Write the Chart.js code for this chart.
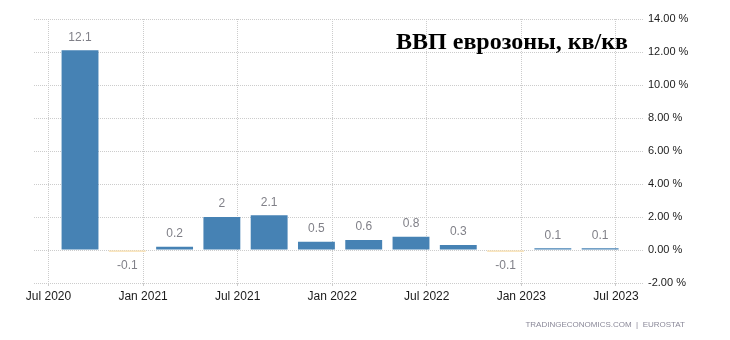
<!DOCTYPE html>
<html>
<head>
<meta charset="utf-8">
<script src="https://cdn.jsdelivr.net/npm/chart.js@4/dist/chart.umd.min.js"></script>
<style>
  body { margin: 0; background: #fff; }
  canvas { display: block; }
</style>
</head>
<body>
<canvas id="gdp" width="730" height="340"></canvas>
<script>
// quarters, as months counted from Jul 2020
const quarters = ['Q3 2020', 'Q4 2020', 'Q1 2021', 'Q2 2021', 'Q3 2021', 'Q4 2021',
                  'Q1 2022', 'Q2 2022', 'Q3 2022', 'Q4 2022', 'Q1 2023', 'Q2 2023'];
const barMonths = [2, 5, 8, 11, 14, 17, 20, 23, 26, 29, 32, 35];
const gdpQoQ = [12.1, -0.1, 0.2, 2, 2.1, 0.5, 0.6, 0.8, 0.3, -0.1, 0.1, 0.1];
const tickMonths = [0, 6, 12, 18, 24, 30, 36];
const tickLabels = ['Jul 2020', 'Jan 2021', 'Jul 2021', 'Jan 2022', 'Jul 2022', 'Jan 2023', 'Jul 2023'];
const yTicks = [-2, 0, 2, 4, 6, 8, 10, 12, 14];

const valueLabels = {
  id: 'valueLabels',
  afterDatasetsDraw(chart) {
    const ctx = chart.ctx;
    const bars = chart.getDatasetMeta(0).data;
    ctx.save();
    ctx.font = '12px "Liberation Sans", Arial, sans-serif';
    ctx.fillStyle = '#808088';
    ctx.textAlign = 'center';
    ctx.textBaseline = 'middle';
    bars.forEach((bar, i) => {
      const v = gdpQoQ[i];
      const y = v >= 0 ? bar.y - 13 : bar.y + 14;
      ctx.fillText(String(v), bar.x, y);
    });
    ctx.restore();
  }
};

const captions = {
  id: 'captions',
  afterDraw(chart) {
    const ctx = chart.ctx;
    ctx.save();
    ctx.fillStyle = '#000';
    ctx.font = 'bold 24px "Liberation Serif", "Times New Roman", serif';
    ctx.textAlign = 'right';
    ctx.textBaseline = 'alphabetic';
    ctx.fillText('ВВП еврозоны, кв/кв', 628, 49);
    ctx.font = '8px "Liberation Sans", Arial, sans-serif';
    ctx.fillStyle = '#8a8898';
    ctx.textBaseline = 'middle';
    ctx.fillText('TRADINGECONOMICS.COM  |  EUROSTAT', 685, 325);
    ctx.restore();
  }
};

new Chart(document.getElementById('gdp').getContext('2d'), {
  type: 'bar',
  data: {
    datasets: [{
      label: 'ВВП еврозоны, кв/кв',
      data: barMonths.map((m, i) => ({ x: m, y: gdpQoQ[i] })),
      backgroundColor: gdpQoQ.map(v => v < 0 ? '#f9deaa' : '#4682b4'),
      borderWidth: 0,
      barPercentage: 0.78,
      categoryPercentage: 1
    }]
  },
  options: {
    responsive: false,
    animation: false,
    devicePixelRatio: 1,
    layout: { padding: { left: 34, top: 19, right: 0, bottom: 0 } },
    plugins: {
      legend: { display: false },
      tooltip: { enabled: false }
    },
    scales: {
      x: {
        type: 'linear',
        offset: false,
        min: -0.92,
        max: 37.72,
        afterBuildTicks: scale => { scale.ticks = tickMonths.map(v => ({ value: v })); },
        afterFit: scale => { scale.height = 57; },
        ticks: {
          autoSkip: false,
          maxRotation: 0,
          padding: 3,
          color: '#1a1a1a',
          font: { family: '"Liberation Sans", Arial, sans-serif', size: 12 },
          callback: (value) => tickLabels[tickMonths.indexOf(value)]
        },
        grid: { offset: false, color: '#cccccc', tickLength: 3, tickColor: '#cccccc' },
        border: { display: false, dash: [1, 1] }
      },
      y: {
        position: 'right',
        min: -2,
        max: 14,
        afterBuildTicks: scale => { scale.ticks = yTicks.map(v => ({ value: v })); },
        afterFit: scale => { scale.width = 87; },
        ticks: {
          padding: 5,
          color: '#1a1a1a',
          font: { family: '"Liberation Sans", Arial, sans-serif', size: 11 },
          callback: v => v.toFixed(2) + ' %'
        },
        grid: { color: '#cccccc', drawTicks: false },
        border: { display: false, dash: [1, 1] }
      }
    }
  },
  plugins: [valueLabels, captions]
});
</script>
</body>
</html>
